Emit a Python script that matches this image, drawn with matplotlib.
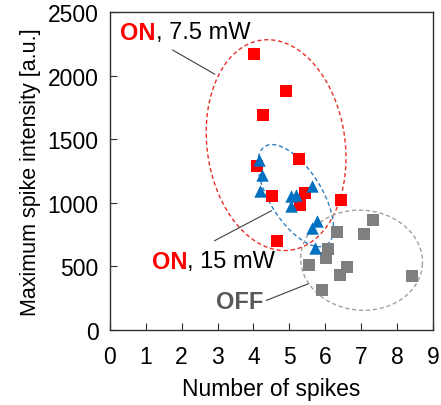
import numpy as np
import matplotlib
matplotlib.use("Agg")
import matplotlib.pyplot as plt

plt.rcParams['font.family'] = ['Liberation Sans', 'DejaVu Sans']

# data
on75_x = [4.01, 4.90, 4.27, 5.27, 4.10, 4.52, 5.43, 5.29, 6.44, 4.66]
on75_y = [2173, 1880, 1688, 1343, 1291, 1054, 1080, 980, 1023, 699]

on15_x = [4.16, 4.25, 4.19, 5.05, 5.18, 5.05, 5.64, 5.77, 5.64, 5.71]
on15_y = [1336, 1215, 1095, 1054, 1064, 976, 1132, 855, 803, 647]

off_x = [7.32, 7.09, 6.32, 6.08, 6.03, 5.55, 6.60, 6.40, 8.40, 5.90]
off_y = [861, 757, 767, 636, 563, 511, 498, 433, 423, 313]

x_ticks = list(range(0, 10))
y_ticks = [0, 500, 1000, 1500, 2000, 2500]

# group ellipses: centre (data), semi axes (px), tilt (deg, ccw from x)
ell_red = dict(c=(4.63, 1453), a=106, b=69, ang=-82, col='#e8302a')
ell_blue = dict(c=(5.175, 1056), a=58, b=26, ang=-58, col='#2e7dc0')
ell_gray = dict(c=(7.01, 548), a=61, b=50, ang=-5, col='#a0a0a0')

fig = plt.figure(figsize=(4.41, 4.06), dpi=100)
ax = fig.add_axes([0.249, 0.185, 0.733, 0.783])
ax.set_xlim(0, 9)
ax.set_ylim(0, 2500)

W = 0.733 * 441
H = 0.783 * 406
sx = W / 9.0
sy = H / 2500.0


def ellipse(e):
    t = np.linspace(0, 2 * np.pi, 300)
    r = np.deg2rad(e['ang'])
    u = e['a'] * np.cos(t)
    v = e['b'] * np.sin(t)
    px = u * np.cos(r) - v * np.sin(r)
    py = u * np.sin(r) + v * np.cos(r)
    ax.plot(e['c'][0] + px / sx, e['c'][1] + py / sy, ls=(0, (3, 2)),
            color=e['col'], lw=1.0, zorder=1)


for e in (ell_red, ell_blue, ell_gray):
    ellipse(e)

ax.scatter(off_x, off_y, marker='s', s=70, color='#7f7f7f', zorder=3, linewidths=0)
ax.scatter(on75_x, on75_y, marker='s', s=70, color='#ff0000', zorder=3, linewidths=0)
ax.scatter(on15_x, on15_y, marker='^', s=80, color='#0070c0', zorder=4, linewidths=0)

# leader lines
ax.plot([1.75, 2.92], [2201, 2011], color='#404040', lw=0.8)
ax.plot([2.92, 4.5], [702, 937], color='#404040', lw=0.8)
ax.plot([4.36, 5.52], [232, 362], color='#404040', lw=0.8)

fs = 17
t1 = ax.text(0.29, 2340, 'ON', color='#ff0000', fontweight='bold', fontsize=fs, va='center')
ax.annotate(', 7.5 mW', xycoords=t1, xy=(1, 0.5), va='center', fontsize=fs, color='black')
t2 = ax.text(1.17, 540, 'ON', color='#ff0000', fontweight='bold', fontsize=fs, va='center')
ax.annotate(', 15 mW', xycoords=t2, xy=(1, 0.5), va='center', fontsize=fs, color='black')
ax.text(2.95, 227, 'OFF', color='#595959', fontweight='bold', fontsize=fs, va='center')

ax.set_xticks(x_ticks)
ax.set_yticks(y_ticks)
ax.tick_params(direction='in', length=5, labelsize=16.5, colors='#303030', labelcolor='black')
ax.tick_params(axis='x', pad=11)
ax.tick_params(axis='y', pad=8)
for s in ax.spines.values():
    s.set_color('#303030')
    s.set_linewidth(1.0)

ax.set_xlabel('Number of spikes', fontsize=16.5, color='black', labelpad=6)
ax.set_ylabel('Maximum spike intensity [a.u.]', fontsize=15.5, color='black', labelpad=5)

fig.savefig('out.png', dpi=100)
